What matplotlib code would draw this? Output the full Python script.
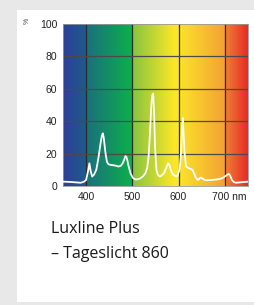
import numpy as np
import matplotlib
matplotlib.use("Agg")
import matplotlib.pyplot as plt
from matplotlib.patches import Rectangle
from matplotlib.transforms import ScaledTranslation

# ---- data ----
wavelength = [350, 365, 380, 388, 395, 400, 404, 407, 410, 413, 417, 422, 427,
              431, 434, 436, 438, 440, 442, 445, 448, 453, 459, 465, 470, 475,
              479, 482, 485, 487, 489, 492, 496, 501, 507, 512, 517, 523, 528,
              532, 535, 538, 541, 543, 545, 547, 549, 552, 555, 559, 563, 568,
              573, 577, 580, 583, 587, 591, 597, 602, 605, 607, 609, 611, 613,
              616, 619, 622, 626, 630, 633, 636, 641, 645, 648, 652, 656, 662,
              670, 678, 684, 692, 698, 702, 706, 709, 712, 715, 719, 724, 735,
              750]
intensity = [2.7, 2.5, 2.2, 2.0, 2.6, 3.7, 9, 14, 9, 5.8, 7, 10, 18,
             26, 31, 32.5, 30, 25, 20, 15, 13.5, 13, 12.8, 12.5, 12, 12.5,
             14, 16, 18.5, 18, 16, 12, 7.8, 5, 4, 4.2, 4.7, 6, 7.8,
             11, 18, 32, 50, 56, 57, 45, 24, 10, 7, 5.8, 6.5, 7.8,
             11, 14, 13, 10, 7.5, 6.5, 5.8, 10, 20, 34, 42, 30, 20,
             12, 11.5, 11, 10.5, 10, 8, 5.8, 3.7, 4.5, 5.3, 4.5, 3.7, 3.6,
             3.7, 3.9, 4.1, 4.6, 5.5, 6.3, 7.2, 7.4, 6, 3.7, 2.5, 2.0, 2.3,
             2.7]
x_ticks = [400, 500, 600, 700]
x_tick_labels = ["400", "500", "600", "700 nm"]
y_ticks = [0, 20, 40, 60, 80, 100]
y_tick_labels = ["0", "20", "40", "60", "80", "100"]
title_lines = ["Luxline Plus", "\u2013 Tageslicht 860"]

W, H = 254, 305
fig = plt.figure(figsize=(W / 100, H / 100), dpi=100)
fig.patch.set_facecolor("#e8e8e8")
panel = Rectangle((17 / W, 3 / H), 1, (H - 13) / H, transform=fig.transFigure,
                  facecolor="white", edgecolor="none", zorder=-10)
fig.add_artist(panel)

ax = fig.add_axes([63 / W, 119 / H, 185 / W, 162 / H])
ax.set_zorder(1)
ax.set_xlim(350, 750)
ax.set_ylim(0, 100)

# background spectrum gradient (piecewise, with steps at grid lines)
stops = [
    (350.0, "#2e3f98"), (399.9, "#1f5a8c"),
    (400.0, "#1b6f7e"), (499.9, "#0cb04a"),
    (500.0, "#86c440"), (590.0, "#fbe726"), (599.9, "#fce62a"),
    (600.0, "#fbe52a"), (699.9, "#f3a233"),
    (700.0, "#f08233"), (750.0, "#e62a28"),
]
pos = np.array([s[0] for s in stops])
rgb = np.array([matplotlib.colors.to_rgb(s[1]) for s in stops])
xs = np.linspace(350, 750, 800)
img = np.stack([np.interp(xs, pos, rgb[:, i]) for i in range(3)], axis=-1)[None, :, :]
ax.imshow(img, extent=[350, 750, 0, 100], aspect="auto", origin="lower",
          interpolation="bilinear", zorder=0)

for xv in x_ticks:
    ax.axvline(xv, color="#2a2a2a", lw=0.9, zorder=1)
for yv in y_ticks[1:-1]:
    ax.axhline(yv, color="#4a4a4a", lw=0.9, zorder=1)

ax.plot(wavelength, intensity, color="white", lw=1.3, zorder=3,
        solid_joinstyle="round")

ax.set_xticks(x_ticks)
ax.set_xticklabels(x_tick_labels)
ax.set_yticks(y_ticks)
ax.set_yticklabels(y_tick_labels)
ax.tick_params(length=0, labelsize=7.5, colors="#222222", pad=4)
for lbl in ax.get_xticklabels() + ax.get_yticklabels():
    lbl.set_family("Liberation Sans")
last = ax.get_xticklabels()[-1]
last.set_transform(last.get_transform() + ScaledTranslation(4 / 100, 0, fig.dpi_scale_trans))
for sp in ax.spines.values():
    sp.set_color("#999999")
    sp.set_linewidth(0.6)

fig.text(27 / W, 1 - 21 / H, "%", rotation=90, ha="center", va="center",
         fontsize=5, family="Liberation Sans", color="#444444")

fig.text(51 / W, 1 - 233 / H, title_lines[0], ha="left", va="baseline",
         fontsize=11.5, family="Open Sans", color="#1a1a1a")
fig.text(51 / W, 1 - 258 / H, title_lines[1], ha="left", va="baseline",
         fontsize=11.5, family="Open Sans", color="#1a1a1a")

fig.savefig("out.png", dpi=100)
